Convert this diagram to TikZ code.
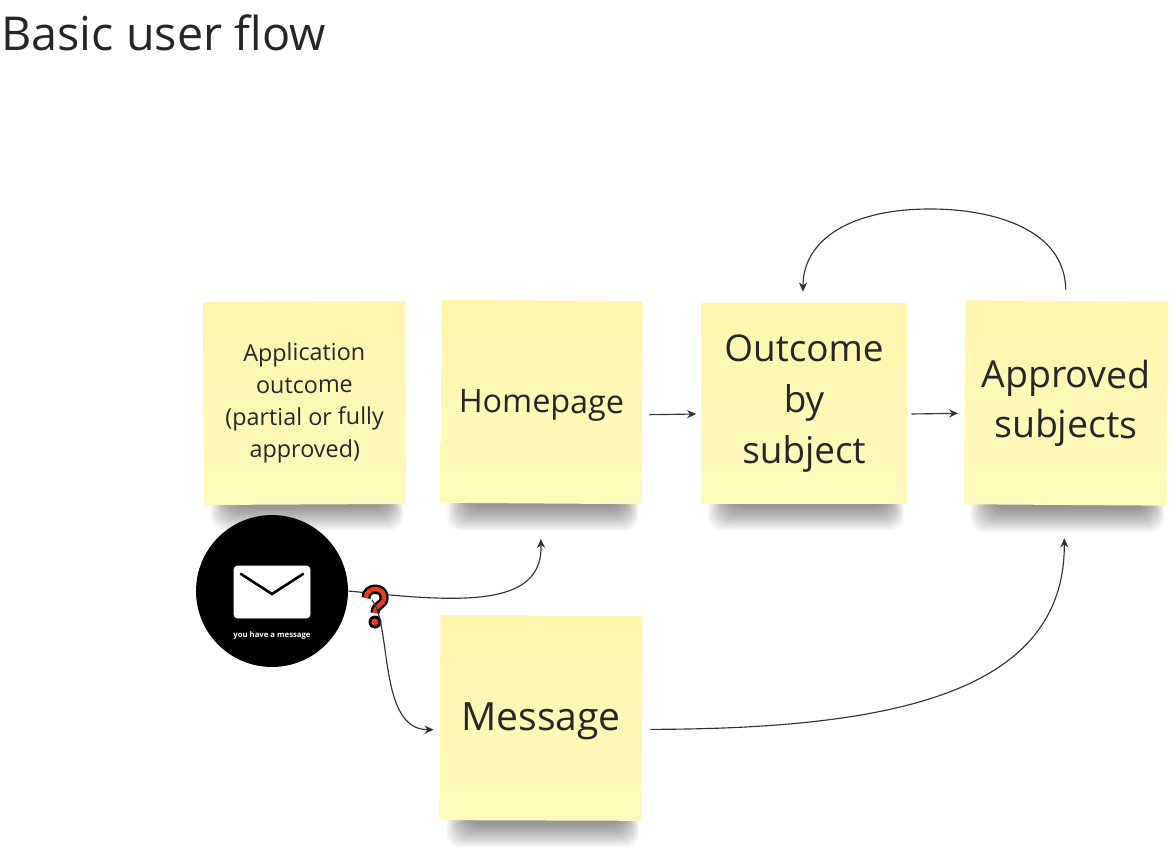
\documentclass[tikz,border=0pt]{standalone}
\usepackage{fontspec}
\setmainfont{Open Sans}
\usetikzlibrary{arrows.meta,backgrounds}
\definecolor{notetop}{HTML}{FFF6AE}
\definecolor{notebottom}{HTML}{FFF9BC}
\definecolor{inkgray}{HTML}{333333}
\definecolor{qred}{HTML}{EE3A1A}
\newcommand{\fsize}[2]{\fontsize{#1}{#2}\selectfont}
\tikzset{
	note/.style 2 args={inner sep=0pt,align=center,text=black!85,top color=notetop,bottom color=notebottom,minimum width=#1*0.569pt,minimum height=#2*0.569pt},
	flow/.style={-{Stealth[length=5.2pt,width=4.6pt]},inkgray,line width=0.65pt},
}
\begin{document}
\begin{tikzpicture}[x=0.02cm,y=-0.02cm]
	\useasboundingbox (0,0) rectangle (1172,852);
	\node[anchor=west,inner sep=0pt,text=black!85,font=\fsize{26.6pt}{32pt}] (title) at (1,33) {Basic user flow};
	% notes
	\node[note={202}{203},rotate=0.3,font=\fsize{13.3pt}{18.3pt}] (application) at (304.5,403) {Application\\outcome\\(partial or fully\\approved)};
	\node[note={201}{203},rotate=-0.4,font=\fsize{18.4pt}{24pt}] (homepage) at (541.5,402) {\smash{\raisebox{-6.2pt}{Homepage}}};
	\node[note={205}{201},font=\fsize{21pt}{29pt}] (outcome) at (804,403.5) {Outcome\\by\\subject};
	\node[note={203}{204},rotate=-0.4,font=\fsize{21.3pt}{28.4pt}] (approved) at (1066,403) {Approved\\subjects};
	\node[note={202}{205},rotate=-0.2,font=\fsize{22.2pt}{29pt}] (message) at (541,718) {\smash{\raisebox{-7pt}{Message}}};
	% shadows under the notes
	\begin{pgfonlayer}{background}
		\foreach \n in {application,homepage,outcome,approved,message}
			\foreach \k in {0,...,14}
				\fill[black,opacity=0.035,rounded corners=8] ([shift={(7+\k*1.6,-10)}]\n.south west) rectangle ([shift={(-3-\k*1.2,26-\k*1.7)}]\n.south east);
	\end{pgfonlayer}
	% message icon
	\node[circle,fill=black,minimum size=152*0.569pt,inner sep=0pt] (envelope) at (272,591) {};
	\draw[white,fill=white,rounded corners=2] (234,566) rectangle (310,618);
	\draw[black,line width=1.5pt,line cap=round] (241,574) -- (272,594) -- (303,574);
	\node[text=white,inner sep=0pt,font=\bfseries\fsize{4.4pt}{6pt}] (envelopetext) at (272,635) {you have a message};
	\coordinate (qmark) at (372,600);
	\draw[flow] (envelope.east) -- (390,595) .. controls (480,603) and (543,600) .. ([shift={(0,35)}]homepage.south);
	% question mark
	\draw[black,line width=5.2pt,line join=round] (366,598) .. controls (366,586) and (385,586) .. (384,598) .. controls (384,606) and (375,604) .. (375,613);
	\fill[black] (375,622) circle (6.5);
	\draw[qred,line width=2.5pt] (366,598) .. controls (366,586) and (385,586) .. (384,598) .. controls (384,606) and (375,604) .. (375,613);
	\fill[qred] (375,622) circle (3.5);
	% connectors
	\draw[flow] (qmark) .. controls (392,625) and (378,730) .. ([shift={(-6,12)}]message.west);
	\draw[flow] ([shift={(7,12)}]homepage.east) -- ([shift={(-5,10.5)}]outcome.west);
	\draw[flow] ([shift={(4.5,10.5)}]outcome.east) -- ([shift={(-6,11)}]approved.west);
	\draw[flow] ([shift={(8,11)}]message.east) .. controls (900,729) and (1065,690) .. ([shift={(-1,33)}]approved.south);
	\draw[flow] ([shift={(-1,-11)}]approved.north) .. controls (1065,230) and (995,209) .. (930,209) .. controls (850,209) and (803,240) .. ([shift={(-1,-11)}]outcome.north);
\end{tikzpicture}
\end{document}
